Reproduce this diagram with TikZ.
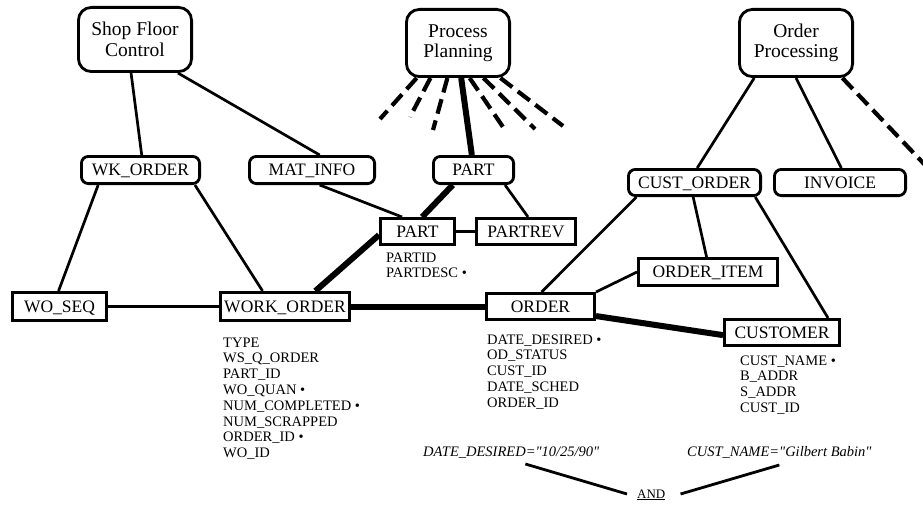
\documentclass[tikz,border=0pt]{standalone}
\usepackage{fontspec}
\setmainfont{Liberation Serif}
\usetikzlibrary{calc}
\begin{document}
\begin{tikzpicture}[x=1pt,y=-1pt,
  proc/.style={draw,line width=2.8pt,rounded corners=13pt,inner sep=0pt,align=center,
    font=\fontsize{19.5}{20.5}\selectfont},
  rbox/.style={draw,line width=2.8pt,rounded corners=7pt,inner sep=0pt,
    font=\fontsize{17.5}{20}\selectfont,text height=11.6pt,text depth=0pt},
  sbox/.style={draw,line width=2.8pt,inner sep=0pt,
    font=\fontsize{17.5}{20}\selectfont,text height=11.6pt,text depth=0pt},
  conn/.style={line width=2.7pt},
  heavy/.style={line width=6pt},
  dashy/.style={line width=4.2pt,dash pattern=on 15pt off 7pt},
  andline/.style={line width=2.8pt},
  attr/.style={inner sep=0pt,anchor=base west,font=\fontsize{14.5}{15.8}\selectfont},
  ital/.style={inner sep=0pt,anchor=base west,font=\fontsize{14.5}{17}\selectfont\itshape},
]
\useasboundingbox (0,0) rectangle (923,508);

% process nodes
\node[proc,minimum width=113.2pt,minimum height=64.2pt] (sfc) at (135,39.5) {Shop Floor\\Control};
\node[proc,minimum width=103.2pt,minimum height=67.2pt] (pp) at (458,43) {Process\\Planning};
\node[proc,minimum width=113.2pt,minimum height=67.2pt] (op) at (796,43) {Order\\Processing};

% rounded boxes
\node[rbox,minimum width=118.2pt,minimum height=27.2pt] (wk) at (140.5,170) {WK\_ORDER};
\node[rbox,minimum width=125.2pt,minimum height=27.2pt] (mat) at (312,170) {MAT\_INFO};
\node[rbox,minimum width=80.2pt,minimum height=27.2pt] (parta) at (473.5,170) {PART};
\node[rbox,minimum width=132.2pt,minimum height=26.2pt] (co) at (694.5,182.5) {CUST\_ORDER};
\node[rbox,minimum width=131.2pt,minimum height=26.2pt] (inv) at (840,182.5) {INVOICE};

% square boxes
\node[sbox,minimum width=74.2pt,minimum height=26.2pt] (partb) at (417.5,231.5) {PART};
\node[sbox,minimum width=99.2pt,minimum height=26.2pt] (partrev) at (526,231.5) {PARTREV};
\node[sbox,minimum width=139.2pt,minimum height=27.2pt] (oi) at (708,272) {ORDER\_ITEM};
\node[sbox,minimum width=94.2pt,minimum height=28.2pt] (woseq) at (59.5,306.5) {WO\_SEQ};
\node[sbox,minimum width=129.2pt,minimum height=28.2pt] (wo) at (285,306.5) {WORK\_ORDER};
\node[sbox,minimum width=108.2pt,minimum height=26.2pt] (order) at (540.5,306.5) {ORDER};
\node[sbox,minimum width=115.2pt,minimum height=26.2pt] (cust) at (782,332.5) {CUSTOMER};

% attributes
\node[attr] (partattr) at (386,262) {\begin{tabular}[t]{@{}l@{}}PARTID\\PARTDESC •\end{tabular}};
\node[attr] (woattr) at (223,347) {\begin{tabular}[t]{@{}l@{}}TYPE\\WS\_Q\_ORDER\\PART\_ID\\WO\_QUAN •\\NUM\_COMPLETED •\\NUM\_SCRAPPED\\ORDER\_ID •\\WO\_ID\end{tabular}};
\node[attr] (orderattr) at (487,344) {\begin{tabular}[t]{@{}l@{}}DATE\_DESIRED •\\OD\_STATUS\\CUST\_ID\\DATE\_SCHED\\ORDER\_ID\end{tabular}};
\node[attr] (custattr) at (740,365) {\begin{tabular}[t]{@{}l@{}}CUST\_NAME •\\B\_ADDR\\S\_ADDR\\CUST\_ID\end{tabular}};

% query
\node[ital] (date) at (423,456) {DATE\_DESIRED=\textquotedbl 10/25/90\textquotedbl};
\node[ital] (cn) at (687,456) {CUST\_NAME=\textquotedbl Gilbert Babin\textquotedbl};
\node[inner sep=0pt,anchor=base west,font=\fontsize{13}{15}\selectfont] (and) at (637,498) {\underline{AND}};

% free ends of dashed lines
\coordinate (d1) at (380,119);
\coordinate (d2) at (410,117);
\coordinate (d3) at (433,130);
\coordinate (d5) at (503,127);
\coordinate (d6) at (535,129);
\coordinate (d7) at (563,126);
\coordinate (opfree) at (926,166);

% connectors
\draw[conn] ($(sfc.south west)!0.466!(sfc.south east)$) -- ($(wk.north west)!0.51!(wk.north east)$);
\draw[conn] ($(sfc.south west)!0.87!(sfc.south east)$) -- ($(mat.north west)!0.56!(mat.north east)$);
\draw[conn] ($(wk.south west)!0.15!(wk.south east)$) -- ($(woseq.north west)!0.49!(woseq.north east)$);
\draw[conn] ($(wk.south west)!0.95!(wk.south east)$) -- ($(wo.north west)!0.33!(wo.north east)$);
\draw[conn] (woseq.east) -- (wo.west);
\draw[heavy] (wo.east) -- (order.west);
\draw[heavy] ($(wo.north west)!0.73!(wo.north east)$) -- ($(partb.north west)!0.62!(partb.south west)$);
\draw[conn] ($(mat.south west)!0.56!(mat.south east)$) -- ($(partb.north west)!0.3!(partb.north east)$);
\draw[heavy] ($(pp.south west)!0.53!(pp.south east)$) -- ($(parta.north west)!0.48!(parta.north east)$);
\draw[heavy] ($(parta.south west)!0.25!(parta.south east)$) -- ($(partb.north west)!0.56!(partb.north east)$);
\draw[conn] ($(parta.south west)!0.88!(parta.south east)$) -- ($(partrev.north west)!0.52!(partrev.north east)$);
\draw[conn] (partb.east) -- (partrev.west);
\draw[conn] ($(op.south west)!0.14!(op.south east)$) -- ($(co.north west)!0.52!(co.north east)$);
\draw[conn] ($(op.south west)!0.5!(op.south east)$) -- ($(inv.north west)!0.51!(inv.north east)$);
\draw[dashy] ($(op.south west)!0.9!(op.south east)$) -- (opfree);
\draw[conn] ($(co.south west)!0.07!(co.south east)$) -- ($(order.north west)!0.51!(order.north east)$);
\draw[conn] ($(co.south west)!0.49!(co.south east)$) -- ($(oi.north west)!0.49!(oi.north east)$);
\draw[conn] ($(co.south west)!0.95!(co.south east)$) -- ($(cust.north west)!0.89!(cust.north east)$);
\draw[conn] (order.north east) -- (oi.west);
\draw[heavy] ($(order.north east)!0.83!(order.south east)$) -- ($(cust.north west)!0.59!(cust.south west)$);

% dashed lines from Process Planning
\draw[dashy] ($(pp.south west)!0.11!(pp.south east)$) -- (d1);
\draw[dashy] ($(pp.south west)!0.24!(pp.south east)$) -- (d2);
\draw[dashy] ($(pp.south west)!0.40!(pp.south east)$) -- (d3);
\draw[dashy] ($(pp.south west)!0.61!(pp.south east)$) -- (d5);
\draw[dashy] ($(pp.south west)!0.74!(pp.south east)$) -- (d6);
\draw[dashy] ($(pp.south west)!0.90!(pp.south east)$) -- (d7);

% AND connectors
\draw[andline] ($(date.base west)!0.58!(date.base east)+(0,8)$) -- ($(and.base west)+(-10,-4)$);
\draw[andline] ($(and.base east)+(15,-4)$) -- ($(cn.base west)!0.5!(cn.base east)+(0,9)$);
\end{tikzpicture}
\end{document}
